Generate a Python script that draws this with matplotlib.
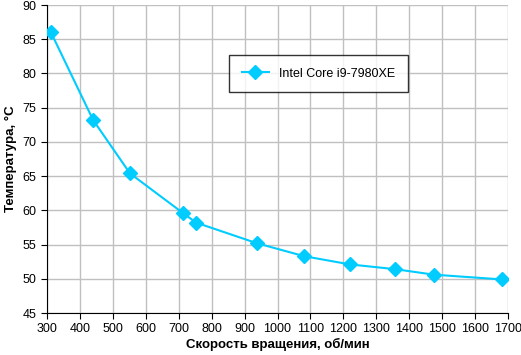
import matplotlib
matplotlib.use("Agg")
import matplotlib.pyplot as plt

plt.rcParams['font.family'] = ['Liberation Sans', 'DejaVu Sans']

# fan speed (rpm) and CPU temperature (°C)
rpm = [312, 440, 552, 713, 753, 937, 1081, 1220, 1358, 1475, 1683]
temp = [86.0, 73.2, 65.4, 59.6, 58.2, 55.2, 53.3, 52.1, 51.4, 50.6, 49.9]
series_name = "Intel Core i9-7980XE"

fig = plt.figure(figsize=(5.21, 3.55), dpi=100)
ax = fig.add_axes([47/521, 1 - 313/355, (508-47)/521, (313-5)/355])

ax.plot(rpm, temp, color='#00ccff', lw=1.5, marker='D', ms=6.8,
        label=series_name, zorder=3)

ax.set_xlim(300, 1700)
ax.set_ylim(45, 90)
ax.set_xticks(range(300, 1701, 100))
ax.set_yticks(range(45, 91, 5))
ax.grid(True, color='#c0c0c0', lw=1)
ax.tick_params(labelsize=9, length=4, direction='out', color='black')
for s in ['top', 'right']:
    ax.spines[s].set_visible(False)
ax.spines['left'].set_color('black')
ax.spines['bottom'].set_color('black')

ax.set_xlabel("Скорость вращения, об/мин", fontsize=9.5, fontweight='bold', labelpad=2)
ax.set_ylabel("Температура, °C", fontsize=9.5, fontweight='bold', labelpad=4)

leg = ax.legend(loc='upper left', bbox_to_anchor=((229-47)/461, (313-55)/308),
                fontsize=9, frameon=True, fancybox=False, edgecolor='black',
                borderpad=1.0, handlelength=2.2, borderaxespad=0)
leg.get_frame().set_linewidth(1)

fig.savefig("out.png", dpi=100)
